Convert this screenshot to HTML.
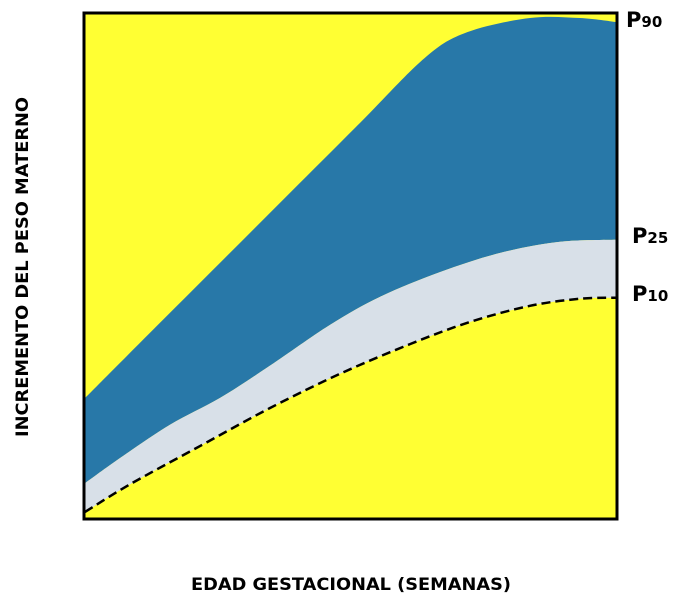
<!DOCTYPE html>
<html><head><meta charset="utf-8"><style>
body{margin:0;background:#fff;width:685px;height:601px;overflow:hidden;font-family:"DejaVu Sans","Liberation Sans",sans-serif}
</style></head><body>
<svg width="685" height="601">
<g id="plot"></g>
<text x="191" y="590" font-size="17" font-weight="bold" textLength="320" lengthAdjust="spacingAndGlyphs">EDAD GESTACIONAL (SEMANAS)</text>
<text transform="translate(28,437) rotate(-90)" font-size="17" font-weight="bold" textLength="340" lengthAdjust="spacingAndGlyphs">INCREMENTO DEL PESO MATERNO</text>
<text x="626" y="27" font-size="21" font-weight="bold">P<tspan font-size="15">90</tspan></text>
<text x="632" y="243" font-size="21" font-weight="bold">P<tspan font-size="15">25</tspan></text>
<text x="632" y="301" font-size="21" font-weight="bold">P<tspan font-size="15">10</tspan></text>
</svg>
<script>
const p90X=[0,12.2,25.4,38.6,51.8,64,72,83.8,93.2,100];
const p90Y=[23.8,36.7,50.6,64.5,78.4,91.3,96.4,99.2,99.2,98.4];
const p25X=[0,6.6,16,25.4,34.8,46.1,55.6,66.9,78.2,89.5,100];
const p25Y=[6.9,11.9,18.5,23.8,30.2,38.3,43.9,48.8,52.6,54.8,55.2];
const p10X=[0,8.5,21.7,34.8,48,61.2,72.5,83.8,93.2,100];
const p10Y=[1.2,6.7,14.3,21.8,28.6,34.5,38.9,42.1,43.5,43.7];
const L=85,R=616,T=14,B=518;
const sx=v=>L+(R-L)*v/100, sy=v=>B-(B-T)*v/100;
function pts(xs,ys){return xs.map((x,i)=>[sx(x),sy(ys[i])]);}
function curve(p){let d='';for(let i=0;i<p.length-1;i++){const p0=p[i-1]||p[i],p1=p[i],p2=p[i+1],p3=p[i+2]||p2;
const c1=[p1[0]+(p2[0]-p0[0])/6,p1[1]+(p2[1]-p0[1])/6],c2=[p2[0]-(p3[0]-p1[0])/6,p2[1]-(p3[1]-p1[1])/6];
d+=` C${c1[0]},${c1[1]} ${c2[0]},${c2[1]} ${p2[0]},${p2[1]}`;}return d;}
function rev(p){return p.slice().reverse();}
const NS='http://www.w3.org/2000/svg',g=document.getElementById('plot');
function mk(tag,attrs){const e=document.createElementNS(NS,tag);for(const k in attrs)e.setAttribute(k,attrs[k]);g.appendChild(e);return e;}
const bg=mk('rect',{x:L,y:T,width:R-L,height:B-T,fill:'#ffff33'});


const a=pts(p90X,p90Y),b=pts(p25X,p25Y),c=pts(p10X,p10Y);
const blue=mk('path',{d:`M${a[0]} ${curve(a)} L${rev(b)[0]} ${curve(rev(b))} Z`,fill:'#2878a8'});


const gray=mk('path',{d:`M${b[0]} ${curve(b)} L${rev(c)[0]} ${curve(rev(c))} Z`,fill:'#d8e0e8'});


const dash=mk('path',{d:`M${c[0]} ${curve(c)}`,fill:'none',stroke:'#000','stroke-width':2.5,'stroke-dasharray':'9,5'});


const fr=mk('rect',{x:L-1,y:T-1,width:R-L+2,height:B-T+2,fill:'none',stroke:'#000','stroke-width':3});


</script>
</body></html>
